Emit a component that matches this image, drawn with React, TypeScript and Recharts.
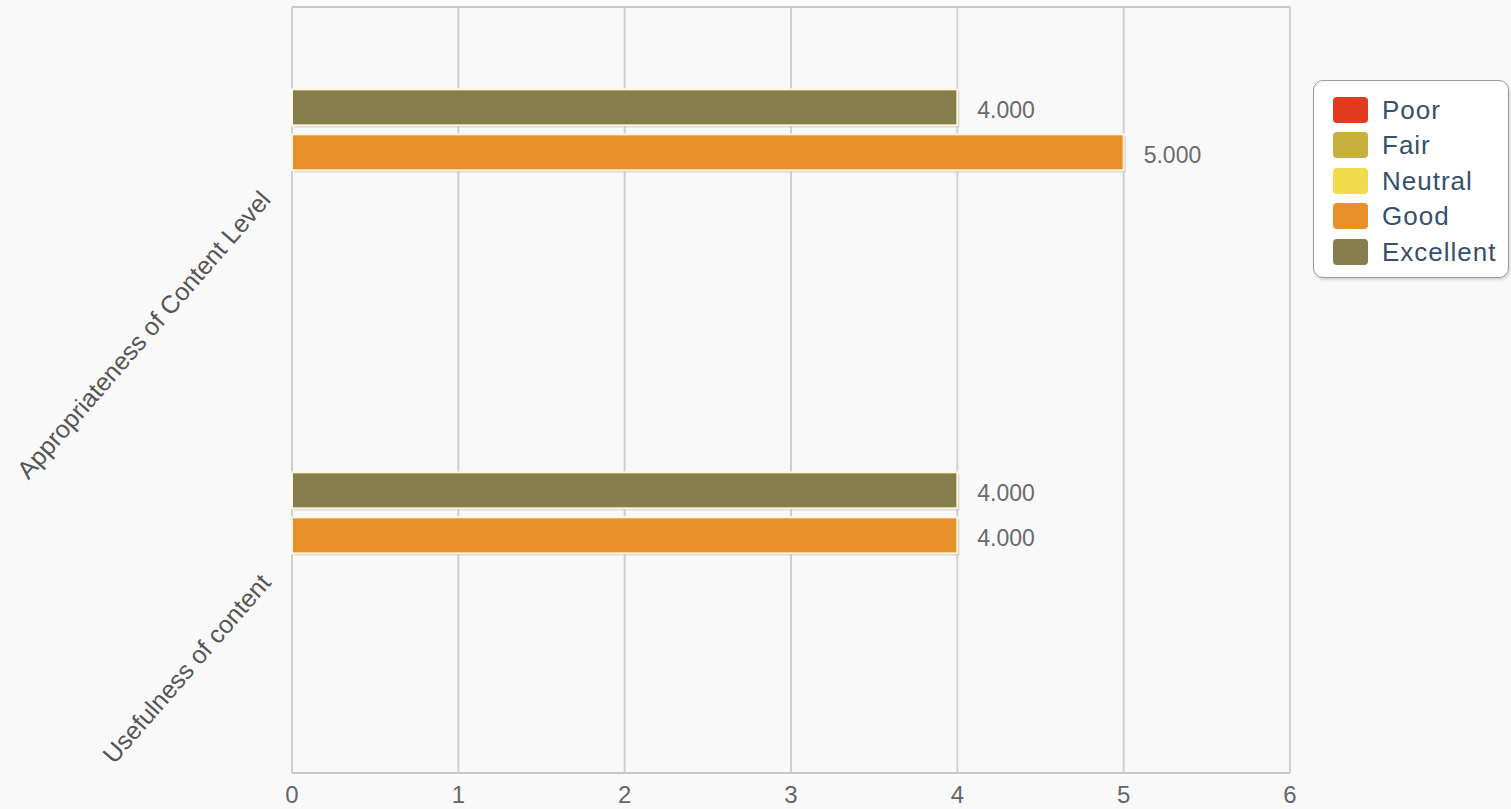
import React from 'react';
import { BarChart, Bar, XAxis, YAxis, CartesianGrid, LabelList } from 'recharts';

const categories = ['Appropriateness of Content Level', 'Usefulness of content'];
const poor = [0, 0];
const fair = [0, 0];
const neutral = [0, 0];
const good = [5, 4];
const excellent = [4, 4];
const xTicks = [0, 1, 2, 3, 4, 5, 6];

// legend order (top to bottom)
const series = [
  { key: 'Poor', color: '#e03b1f', values: poor },
  { key: 'Fair', color: '#c8b03c', values: fair },
  { key: 'Neutral', color: '#f1dc4e', values: neutral },
  { key: 'Good', color: '#e8912b', values: good },
  { key: 'Excellent', color: '#857d4b', values: excellent },
];

const data = categories.map((name, i) => {
  const row: Record<string, any> = { name };
  series.forEach(s => { row[s.key] = s.values[i]; });
  return row;
});

const FONT = '"Liberation Sans", Arial, sans-serif';

const BarShape = (props: any) => {
  const { x, y, width, height, fill } = props;
  if (!width || width <= 0) return <g />;
  return (
    <g>
      <rect x={x + 2} y={y + 2} width={width} height={height} fill="#9a9a9a" opacity={0.45} />
      <rect x={x} y={y} width={width} height={height} fill={fill} stroke="#fff7dd" strokeWidth={2} />
    </g>
  );
};

const ValueLabel = (props: any) => {
  const { x, y, width, height, value } = props;
  if (!value) return null;
  return (
    <text
      x={x + width + 20}
      y={y + height / 2 + 3}
      dominantBaseline="central"
      fill="#6a6a6a"
      fontSize={23}
      fontFamily={FONT}
    >
      {Number(value).toFixed(3)}
    </text>
  );
};

const CategoryTick = (props: any) => {
  const { x, y, payload } = props;
  const ax = x - 20;
  const ay = y + 2;
  return (
    <text
      x={ax}
      y={ay}
      textAnchor="end"
      transform={`rotate(-49, ${ax}, ${ay})`}
      fontSize={25}
      fill="#555"
      fontFamily={FONT}
    >
      {payload.value}
    </text>
  );
};

export default function App() {
  return (
    <div style={{ position: 'absolute', left: 0, top: 0, width: 1511, height: 809, background: '#f9f9f9' }}>
      <BarChart
        width={1511}
        height={809}
        data={data}
        layout="vertical"
        margin={{ top: 6, right: 221, bottom: 0, left: 0 }}
        barCategoryGap="21.5%"
        barGap={9}
      >
        <CartesianGrid horizontal={false} stroke="#cfcfcf" strokeWidth={2} />
        <XAxis
          type="number"
          domain={[0, 6]}
          ticks={xTicks}
          interval={0}
          axisLine={{ stroke: '#c8c8c8', strokeWidth: 2 }}
          tickLine={false}
          tickMargin={7}
          height={36}
          tick={{ fill: '#666', fontSize: 24, fontFamily: FONT }}
        />
        <XAxis
          xAxisId="top"
          orientation="top"
          type="number"
          domain={[0, 6]}
          height={1}
          tick={false}
          tickLine={false}
          axisLine={{ stroke: '#c8c8c8', strokeWidth: 2 }}
        />
        <YAxis
          type="category"
          dataKey="name"
          width={292}
          axisLine={false}
          tickLine={false}
          tickSize={0}
          tickMargin={0}
          tick={<CategoryTick />}
        />
        {[...series].reverse().map(s => (
          <Bar key={s.key} dataKey={s.key} fill={s.color} shape={<BarShape />} isAnimationActive={false}>
            <LabelList dataKey={s.key} content={<ValueLabel />} />
          </Bar>
        ))}
      </BarChart>
      <div
        style={{
          position: 'absolute',
          left: 1313,
          top: 80,
          width: 196,
          height: 198,
          background: '#fff',
          border: '1.5px solid #9a9a9a',
          borderRadius: 10,
          boxShadow: '1px 2px 3px rgba(0,0,0,0.15)',
          boxSizing: 'border-box',
          paddingTop: 11,
          paddingLeft: 19,
          fontFamily: FONT,
        }}
      >
        {series.map(s => (
          <div key={s.key} style={{ display: 'flex', alignItems: 'center', height: 35.5 }}>
            <div style={{ width: 35, height: 26, background: s.color, borderRadius: 4, marginRight: 14 }} />
            <span style={{ fontSize: 26, color: '#34506b', lineHeight: '26px', letterSpacing: 1 }}>{s.key}</span>
          </div>
        ))}
      </div>
    </div>
  );
}
